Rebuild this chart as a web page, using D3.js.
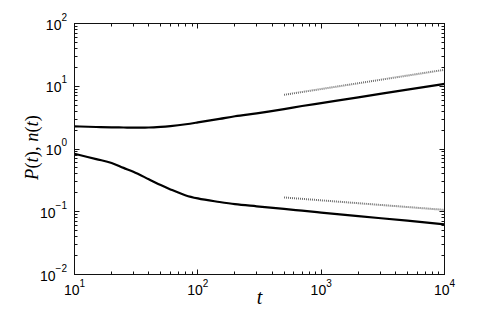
<!DOCTYPE html>
<html>
<head>
<meta charset="utf-8">
<script src="https://cdn.jsdelivr.net/npm/d3@7"></script>
<style>
html,body{margin:0;padding:0;background:#fff;}
svg{display:block;}
</style>
</head>
<body>
<svg id="chart" width="491" height="309"></svg>
<script>
// ---- data ----
const tValues = [10, 15, 20, 25, 30, 40, 50, 60, 80, 100, 150, 200, 300, 500, 700, 1000, 2000, 5000, 10000];
const upperSeries = [2.30, 2.24, 2.21, 2.20, 2.19, 2.20, 2.25, 2.32, 2.48, 2.65, 3.02, 3.33, 3.70, 4.32, 4.84, 5.39, 6.63, 8.86, 10.9];
const lowerSeries = [0.84, 0.69, 0.60, 0.50, 0.434, 0.33, 0.266, 0.227, 0.182, 0.163, 0.143, 0.132, 0.122, 0.111, 0.104, 0.097, 0.085, 0.072, 0.063];
const guideT = [500, 10000];
const guideUpper = [7.3, 18.3];
const guideLower = [0.169, 0.107];
const xTickExponents = [1, 2, 3, 4];
const yTickExponents = [-2, -1, 0, 1, 2];

// ---- layout ----
const L = 74.5, R = 444.5, T = 23.5, B = 274.5;
const svg = d3.select("#chart");
const x = d3.scaleLog().domain([10, 1e4]).range([L, R]);
const y = d3.scaleLog().domain([1e-2, 1e2]).range([B, T]);

// curves
const line = d3.line().x(d => x(d[0])).y(d => y(d[1])).curve(d3.curveMonotoneX);
svg.append("path").datum(tValues.map((t, i) => [t, upperSeries[i]]))
  .attr("d", line).attr("fill", "none").attr("stroke", "#000").attr("stroke-width", 2.2);
svg.append("path").datum(tValues.map((t, i) => [t, lowerSeries[i]]))
  .attr("d", line).attr("fill", "none").attr("stroke", "#000").attr("stroke-width", 2.2);

// dotted guides
const lin = d3.line().x(d => x(d[0])).y(d => y(d[1]));
[guideUpper, guideLower].forEach(g => {
  svg.append("path").datum(guideT.map((t, i) => [t, g[i]]))
    .attr("d", lin).attr("fill", "none").attr("stroke", "#6e6e6e")
    .attr("stroke-width", 2).attr("stroke-dasharray", "1,1");
});

// frame
svg.append("rect").attr("x", L).attr("y", T).attr("width", R - L).attr("height", B - T)
  .attr("fill", "none").attr("stroke", "#111").attr("stroke-width", 1);

// ticks
const ticks = svg.append("g").attr("stroke", "#111").attr("stroke-width", 1);
function minorAndMajor(scale) {
  const [a, b] = scale.domain();
  const out = [];
  for (let e = Math.round(Math.log10(a)); e <= Math.round(Math.log10(b)); e++) {
    for (let m = 1; m <= 9; m++) {
      const v = m * Math.pow(10, e);
      if (v >= a * 0.999 && v <= b * 1.001) out.push({v, major: m === 1});
    }
  }
  return out;
}
minorAndMajor(x).forEach(d => {
  const px = Math.round(x(d.v) - 0.5) + 0.5;
  const len = d.major ? 5 : 3;
  ticks.append("line").attr("x1", px).attr("x2", px).attr("y1", B).attr("y2", B - len);
  ticks.append("line").attr("x1", px).attr("x2", px).attr("y1", T).attr("y2", T + len);
});
minorAndMajor(y).forEach(d => {
  const py = Math.round(y(d.v) - 0.5) + 0.5;
  const len = d.major ? 5 : 3;
  ticks.append("line").attr("y1", py).attr("y2", py).attr("x1", L).attr("x2", L + len);
  ticks.append("line").attr("y1", py).attr("y2", py).attr("x1", R).attr("x2", R - len);
});

// tick labels
const font = "'Liberation Sans', Arial, Helvetica, sans-serif";
xTickExponents.forEach(e => {
  const t = svg.append("text").attr("x", x(Math.pow(10, e))).attr("y", 295)
    .attr("text-anchor", "middle").attr("font-family", font).attr("font-size", 14).attr("fill", "#000");
  t.append("tspan").text("10");
  t.append("tspan").attr("dy", -8).attr("font-size", 10).text(e);
});
yTickExponents.forEach(e => {
  const t = svg.append("text").attr("x", 67).attr("y", y(Math.pow(10, e)) + 6)
    .attr("text-anchor", "end").attr("font-family", font).attr("font-size", 14).attr("fill", "#000");
  t.append("tspan").text("10");
  t.append("tspan").attr("dy", -9).attr("font-size", 10).text(e < 0 ? "\u2212" + (-e) : e);
});

// axis titles
const serif = "'Liberation Serif', 'DejaVu Serif', serif";
svg.append("text").attr("x", (L + R) / 2).attr("y", 304).attr("text-anchor", "middle")
  .attr("font-family", serif).attr("font-style", "italic").attr("font-size", 20).text("t");

const yl = svg.append("text").attr("transform", "translate(38,147.5) rotate(-90)")
  .attr("text-anchor", "middle").attr("font-family", serif).attr("font-size", 18.5);
yl.append("tspan").attr("font-style", "italic").text("P");
yl.append("tspan").text("(");
yl.append("tspan").attr("font-style", "italic").text("t");
yl.append("tspan").text("), ");
yl.append("tspan").attr("font-style", "italic").text("n");
yl.append("tspan").text("(");
yl.append("tspan").attr("font-style", "italic").text("t");
yl.append("tspan").text(")");
</script>
</body>
</html>
